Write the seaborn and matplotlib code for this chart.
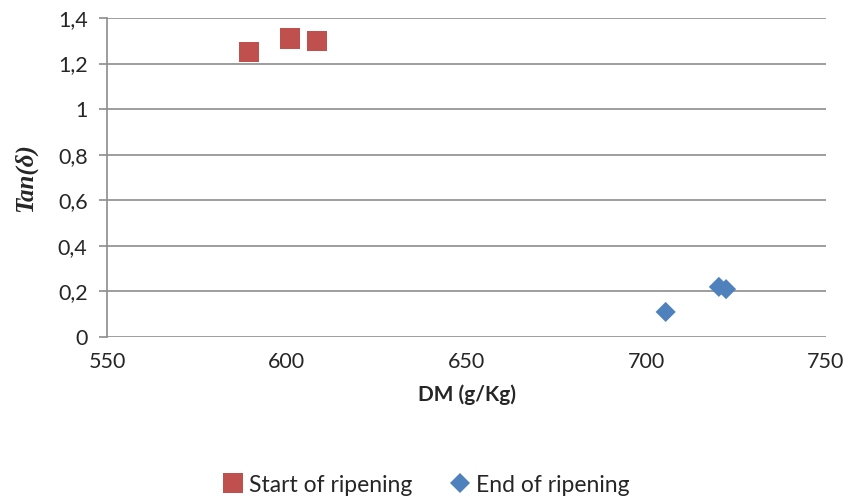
import pandas as pd
import matplotlib.pyplot as plt
import seaborn as sns
from matplotlib.ticker import FuncFormatter

# data
start_dm = [589.5, 600.9, 608.4]
start_tan = [1.25, 1.31, 1.30]
end_dm = [705.4, 720.2, 722.2]
end_tan = [0.11, 0.22, 0.21]

df = pd.DataFrame({
    "dm": start_dm + end_dm,
    "tan": start_tan + end_tan,
    "stage": ["Start of ripening"] * len(start_dm) + ["End of ripening"] * len(end_dm),
})

sns.set_style("white")
plt.rcParams["font.family"] = ["Lato", "DejaVu Sans"]

fig = plt.figure(figsize=(8.51, 5.04), dpi=100)
ax = fig.add_axes([107 / 851, 1 - 337 / 504, (826 - 107) / 851, (337 - 18) / 504])

sns.scatterplot(
    data=df, x="dm", y="tan", hue="stage", style="stage", size="stage",
    palette={"Start of ripening": "#c0504d", "End of ripening": "#4f81bd"},
    markers={"Start of ripening": "s", "End of ripening": "D"},
    sizes={"Start of ripening": 210, "End of ripening": 105},
    linewidth=0, ax=ax, legend=True, zorder=3,
)

ax.set_xlim(550, 750)
ax.set_ylim(0, 1.4)
ax.set_xticks([550, 600, 650, 700, 750])
ax.set_yticks([0, 0.2, 0.4, 0.6, 0.8, 1.0, 1.2, 1.4])
ax.yaxis.set_major_formatter(FuncFormatter(lambda v, p: f"{v:g}".replace(".", ",")))
ax.grid(axis="y", color="#8c8c8c", linewidth=1.2)
ax.grid(axis="x", visible=False)
for s in ["top", "right", "bottom"]:
    ax.spines[s].set_visible(False)
ax.spines["left"].set_color("#8c8c8c")
ax.spines["left"].set_linewidth(1.2)
ax.tick_params(axis="y", length=6, color="#8c8c8c", width=1.2, labelsize=15.5, pad=8, left=True)
ax.tick_params(axis="x", length=0, labelsize=15.5, pad=11)

ax.set_xlabel("DM (g/Kg)", fontsize=15, fontweight="bold", labelpad=9)
ax.set_ylabel("Tan(δ)", fontsize=18, fontweight="bold", fontstyle="italic",
              family=["Liberation Serif", "DejaVu Serif"])
ax.yaxis.set_label_coords(-0.097, 0.5)

handles, labels = ax.get_legend_handles_labels()
ax.legend(handles, labels, loc="center", bbox_to_anchor=(0.5, (504 - 485) / 504),
          bbox_transform=fig.transFigure, ncol=2, frameon=False, fontsize=16.5,
          handlelength=1.0, handletextpad=0.2, columnspacing=1.6)

fig.savefig("out.png", dpi=100)
